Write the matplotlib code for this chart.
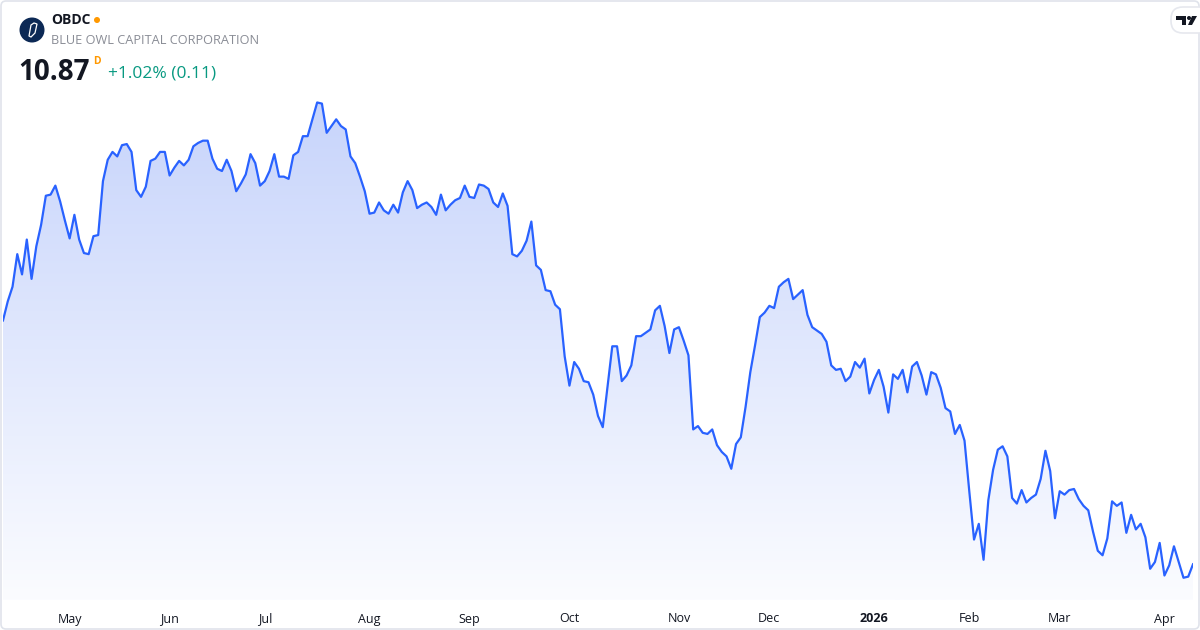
import numpy as np
import pandas as pd
import matplotlib
matplotlib.use("Agg")
import matplotlib.pyplot as plt
from matplotlib.colors import LinearSegmentedColormap
from matplotlib.patches import FancyBboxPatch, Circle, Polygon

plt.rcParams['font.family'] = ['Open Sans', 'DejaVu Sans']

# NYSE holidays inside the one-year window
holidays = ['2025-04-18', '2025-05-26', '2025-06-19', '2025-07-04', '2025-09-01',
            '2025-11-27', '2025-12-25', '2026-01-01', '2026-01-19', '2026-02-16',
            '2026-04-03']

# daily close, OBDC, 2025-04-10 .. 2026-04-10
closes = [
    13.04, 13.21, 13.34, 13.63, 13.45, 13.76, 13.41, 13.70, 13.89, 14.15,
    14.16, 14.24, 14.10, 13.93, 13.77, 13.98, 13.76, 13.64, 13.63, 13.79,
    13.80, 14.28, 14.47, 14.54, 14.50, 14.60, 14.61, 14.54, 14.20, 14.14,
    14.23, 14.46, 14.48, 14.54, 14.54, 14.33, 14.40, 14.46, 14.42, 14.47,
    14.59, 14.62, 14.64, 14.64, 14.48, 14.39, 14.37, 14.47, 14.37, 14.19,
    14.26, 14.34, 14.52, 14.44, 14.24, 14.28, 14.37, 14.52, 14.32, 14.32,
    14.30, 14.51, 14.54, 14.68, 14.68, 14.83, 14.98, 14.97, 14.71, 14.77,
    14.83, 14.77, 14.74, 14.50, 14.44, 14.32, 14.19, 13.99, 14.00, 14.09,
    14.02, 13.99, 14.07, 14.00, 14.18, 14.28, 14.20, 14.04, 14.07, 14.09,
    14.05, 13.98, 14.16, 14.02, 14.07, 14.11, 14.13, 14.24, 14.14, 14.13,
    14.25, 14.24, 14.21, 14.09, 14.05, 14.17, 14.06, 13.63, 13.61, 13.66,
    13.75, 13.92, 13.53, 13.49, 13.31, 13.30, 13.18, 13.14, 12.72, 12.46,
    12.67, 12.61, 12.50, 12.49, 12.38, 12.19, 12.09, 12.45, 12.81, 12.81,
    12.50, 12.55, 12.64, 12.90, 12.90, 12.93, 12.96, 13.13, 13.17, 12.99,
    12.75, 12.96, 12.98, 12.86, 12.73, 12.07, 12.10, 12.04, 12.03, 12.07,
    11.93, 11.87, 11.83, 11.72, 11.94, 12.00, 12.27, 12.58, 12.82, 13.07,
    13.11, 13.17, 13.15, 13.34, 13.38, 13.41, 13.23, 13.27, 13.31, 13.09,
    12.98, 12.95, 12.92, 12.85, 12.64, 12.60, 12.61, 12.50, 12.54, 12.67,
    12.62, 12.70, 12.39, 12.51, 12.60, 12.45, 12.22, 12.56, 12.52, 12.60,
    12.40, 12.63, 12.67, 12.55, 12.38, 12.58, 12.56, 12.44, 12.26, 12.23,
    12.03, 12.11, 11.97, 11.52, 11.09, 11.23, 10.91, 11.44, 11.71, 11.89,
    11.92, 11.83, 11.46, 11.41, 11.53, 11.42, 11.46, 11.49, 11.63, 11.88,
    11.70, 11.28, 11.52, 11.49, 11.53, 11.54, 11.45, 11.39, 11.35, 11.16,
    10.99, 10.95, 11.10, 11.43, 11.39, 11.42, 11.15, 11.31, 11.18, 11.23,
    11.11, 10.83, 10.89, 11.06, 10.77, 10.86, 11.03, 10.89, 10.75, 10.76,
    10.87,
]

dates = pd.bdate_range('2025-04-10', '2026-04-10', freq='C', holidays=holidays)
x = np.arange(len(closes))
y = np.array(closes)

# first session of each month -> tick
month_start = [i for i in range(1, len(dates)) if dates[i].month != dates[i - 1].month]
tick_labels = [dates[i].strftime('%Y') if dates[i].month == 1 else dates[i].strftime('%b')
               for i in month_start]

W, H = 1200.0, 630.0
fig = plt.figure(figsize=(12, 6.3), dpi=100)
fig.patch.set_facecolor('white')

ax = fig.add_axes([3 / W, 30 / H, 1190 / W, 540 / H])
ylo, yhi = 10.552, 15.358
ax.set_xlim(0, len(closes) - 1)
ax.set_ylim(ylo, yhi)

# gradient area under the line
cmap = LinearSegmentedColormap.from_list('area', ['#fbfcff', '#c3d1fb'])
grad = np.linspace(0, 1, 256).reshape(-1, 1)
im = ax.imshow(grad, cmap=cmap, origin='lower', aspect='auto',
               extent=(0, len(closes) - 1, ylo, yhi), zorder=1)
poly = Polygon(np.column_stack([np.r_[x, x[-1], x[0]], np.r_[y, ylo, ylo]]),
               closed=True, fc='none', ec='none')
ax.add_patch(poly)
im.set_clip_path(poly)

ax.plot(x, y, color='#2962ff', lw=1.6, zorder=3, solid_joinstyle='round')

for s in ax.spines.values():
    s.set_visible(False)
ax.set_yticks([])
ax.set_xticks(month_start)
ax.set_xticklabels(tick_labels, fontsize=9, color='#131722')
for lbl in ax.get_xticklabels():
    if lbl.get_text() == '2026':
        lbl.set_fontweight('bold')
ax.tick_params(axis='x', length=0, pad=9)
ax.set_facecolor('none')

# overlay in pixel coordinates for header, badge and card border
ov = fig.add_axes([0, 0, 1, 1], zorder=5)
ov.set_xlim(0, W)
ov.set_ylim(H, 0)
ov.axis('off')
ov.patch.set_alpha(0)

ov.add_patch(FancyBboxPatch((1, 1), W - 2, H - 2, boxstyle='round,pad=0,rounding_size=5',
                            fc='none', ec='#e0e3eb', lw=1.2))

ov.add_patch(Circle((32, 30), 12.5, fc='#0c2955', ec='none'))
ov.add_patch(Polygon([(29, 36), (31, 25), (34, 23), (37, 24), (35, 33), (31, 37)],
                     closed=True, fc='none', ec='white', lw=0.9))
ov.text(51, 20, 'OBDC', fontsize=10, fontweight='bold', color='#131722',
        ha='left', va='center')
ov.add_patch(Circle((97, 20), 3, fc='#ff9800', ec='none'))
ov.text(51, 40, 'BLUE OWL CAPITAL CORPORATION', fontsize=9.2, color='#8a8d96',
        ha='left', va='center')
ov.text(18, 72, '10.87', fontsize=20, fontweight='bold', color='#131722',
        ha='left', va='center')
ov.text(93, 61, 'D', fontsize=7.5, fontweight='bold', color='#ff9800',
        ha='left', va='center')
ov.text(108, 74, '+1.02% (0.11)', fontsize=12.5, color='#089981',
        ha='left', va='center')

# tradingview badge
ov.add_patch(FancyBboxPatch((1171, 7), 40, 26, boxstyle='round,pad=0,rounding_size=12',
                            fc='white', ec='#e6e8ee', lw=1.2))
ov.add_patch(Polygon([(1176, 16), (1186, 16), (1186, 25), (1182, 25), (1182, 20), (1176, 20)],
                     closed=True, fc='#131722', ec='none'))
ov.add_patch(Circle((1189, 18), 2, fc='#131722', ec='none'))
ov.add_patch(Polygon([(1192, 16), (1197, 16), (1192, 25), (1188, 25)],
                     closed=True, fc='#131722', ec='none'))

fig.savefig('out.png', dpi=100)
